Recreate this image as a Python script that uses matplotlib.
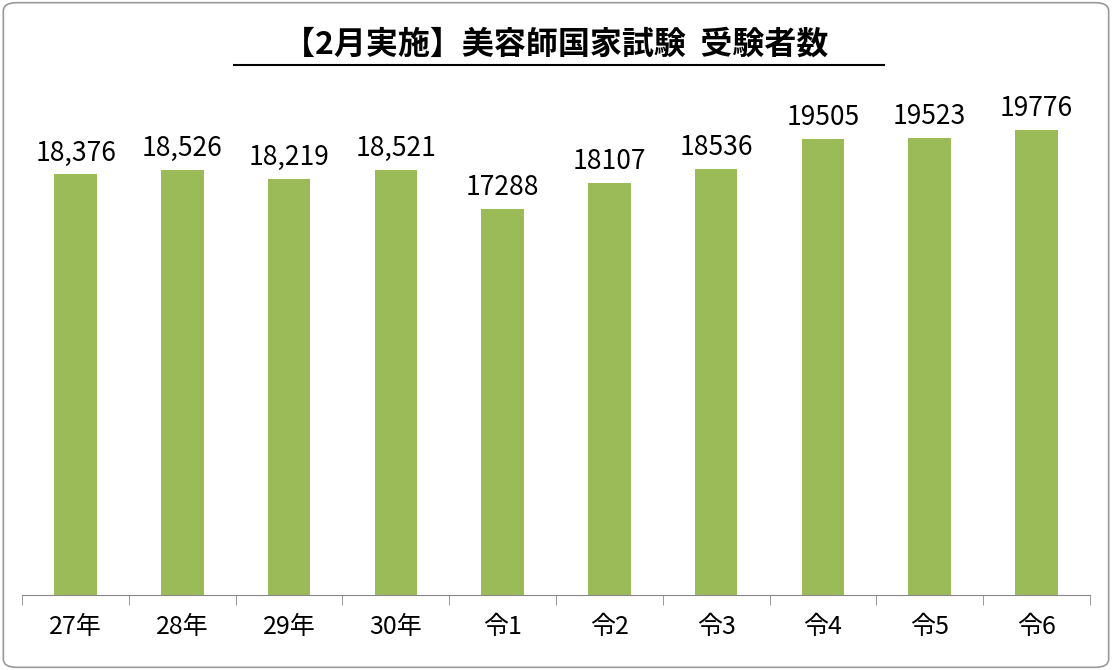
import matplotlib
matplotlib.use("Agg")
import matplotlib.pyplot as plt
from matplotlib.patches import FancyBboxPatch

plt.rcParams['font.family'] = ['Noto Sans CJK JP', 'DejaVu Sans']

categories = ["27年", "28年", "29年", "30年", "令1", "令2", "令3", "令4", "令5", "令6"]
values = [18376, 18526, 18219, 18521, 17288, 18107, 18536, 19505, 19523, 19776]
labels = ["18,376", "18,526", "18,219", "18,521", "17288", "18107", "18536", "19505", "19523", "19776"]

fig = plt.figure(figsize=(11.12, 6.7), dpi=100)
fig.patches.append(FancyBboxPatch((0.003, 0.004), 0.994, 0.992, boxstyle="round,pad=0,rounding_size=0.012",
                                  transform=fig.transFigure, fill=False, edgecolor="#9a9a9a", lw=1.2))
ax = fig.add_axes([0.02, 0.112, 0.96, 0.751])
x = range(len(categories))
ax.bar(x, values, width=0.4, color="#9bbb59")
for i, (v, t) in enumerate(zip(values, labels)):
    ax.text(i, v + 250, t, ha="center", va="bottom", fontsize=19)
ax.set_ylim(5000, 21000)
ax.set_xlim(-0.5, len(categories) - 0.5)
ax.set_yticks([])
for s in ["top", "right", "left"]:
    ax.spines[s].set_visible(False)
ax.spines["bottom"].set_color("#888888")
ax.set_xticks(x)
ax.set_xticklabels(categories, fontsize=18)
ax.tick_params(axis="x", length=0, pad=14)
ax.set_xticks([i + 0.5 for i in range(-1, len(categories))], minor=True)
ax.tick_params(axis="x", which="minor", length=7, color="#888888")

fig.text(0.5, 0.933, "【2月実施】美容師国家試験  受験者数", ha="center", va="center",
         fontsize=23, fontweight="bold")
fig.add_artist(plt.Line2D([0.21, 0.795], [0.903, 0.903], transform=fig.transFigure, color="black", lw=1.5))
fig.savefig("out.png", dpi=100)
